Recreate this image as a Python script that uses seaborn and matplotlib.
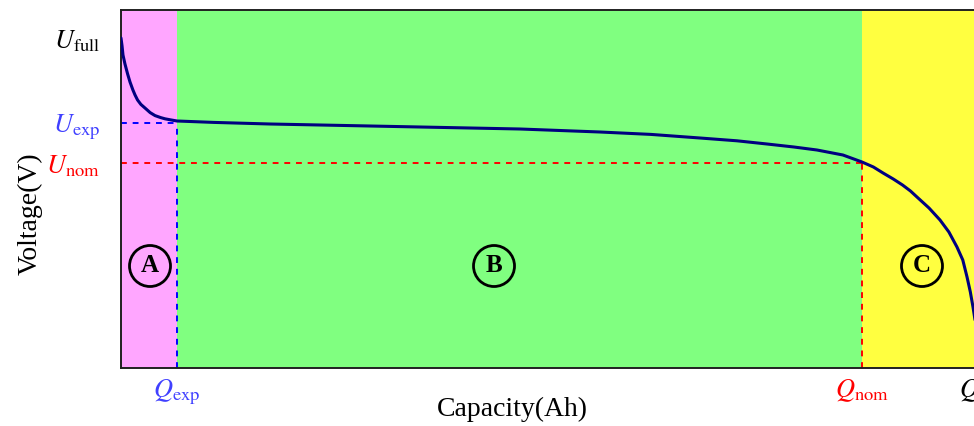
import matplotlib
matplotlib.use("Agg")
import matplotlib.pyplot as plt
import seaborn as sns
import pandas as pd

# Discharge curve of a cell: capacity (Ah) vs. terminal voltage (V)
capacity = [0.000, 0.008, 0.015, 0.030, 0.050, 0.068, 0.090, 0.106, 0.125, 0.150,
            0.181, 0.220, 0.257, 0.300, 0.332, 0.380, 0.423, 0.700, 1.125, 1.880,
            2.635, 3.012, 3.616, 4.000, 4.371, 4.650, 4.877, 5.080, 5.254, 5.450,
            5.594, 5.680, 5.753, 5.830, 5.900, 5.960, 6.009, 6.100, 6.183, 6.250,
            6.311, 6.355, 6.387, 6.412, 6.432, 6.452, 6.470, 6.486, 6.500]
voltage = [4.150, 4.110, 4.065, 4.020, 3.970, 3.930, 3.890, 3.865, 3.840, 3.818,
           3.800, 3.777, 3.762, 3.752, 3.746, 3.740, 3.735, 3.728, 3.720, 3.710,
           3.700, 3.695, 3.680, 3.668, 3.650, 3.636, 3.620, 3.605, 3.590, 3.565,
           3.530, 3.505, 3.475, 3.445, 3.415, 3.385, 3.355, 3.300, 3.240, 3.180,
           3.105, 3.040, 2.955, 2.880, 2.805, 2.720, 2.640, 2.570, 2.500]

# Characteristic points
q_exp, q_nom, q_full = 0.423, 5.594, 6.500
u_full, u_exp, u_nom = 4.150, 3.725, 3.525
v_min, v_max = 2.500, 4.290

zones = ["A", "B", "C"]
zone_edges = [(0.0, q_exp), (q_exp, q_nom), (q_nom, q_full)]
zone_colors = ["#ffa6ff", "#80ff80", "#ffff40"]
zone_label_x = [0.219, 2.816, 6.047]

sns.set_theme(style="white")
plt.rcParams["font.family"] = ["Liberation Serif", "DejaVu Serif"]
plt.rcParams["mathtext.fontset"] = "stix"
plt.rcParams["text.color"] = "black"
plt.rcParams["axes.labelcolor"] = "black"

fig = plt.figure(figsize=(9.74, 4.26), dpi=100)
ax = fig.add_axes([121 / 974, 58 / 426, 861 / 974, 358 / 426])

# Shaded operating zones
for (x0, x1), c in zip(zone_edges, zone_colors):
    ax.axvspan(x0, x1, color=c, lw=0, zorder=0)

# Guide lines to the exponential and nominal points
dash = (0, (3, 3))
ax.plot([0, q_exp], [u_exp, u_exp], ls=dash, color="#0000ff", lw=1.4, zorder=2)
ax.plot([q_exp, q_exp], [v_min, u_exp], ls=dash, color="#0000ff", lw=1.4, zorder=2)
ax.plot([0, q_nom], [u_nom, u_nom], ls=dash, color="#ff0000", lw=1.4, zorder=2)
ax.plot([q_nom, q_nom], [v_min, u_nom], ls=dash, color="#ff0000", lw=1.4, zorder=2)

df = pd.DataFrame({"Capacity": capacity, "Voltage": voltage})
sns.lineplot(data=df, x="Capacity", y="Voltage", ax=ax, color="#000080",
             lw=2.2, sort=False, zorder=3)

# Zone markers
zone_y = 3.01
for name, xc in zip(zones, zone_label_x):
    ax.text(xc, zone_y, name, ha="center", va="center", fontsize=18,
            fontweight="bold", color="black", zorder=4,
            bbox=dict(boxstyle="circle,pad=0.36", fc="none", ec="black", lw=2))

ax.set_xlim(0, q_full)
ax.set_ylim(v_min, v_max)
ax.set_xticks([q_exp, q_nom, q_full])
ax.set_xticklabels([r"$Q_{\mathrm{exp}}$", r"$Q_{\mathrm{nom}}$", r"$Q_{\mathrm{full}}$"],
                   fontsize=19)
ax.set_yticks([u_full, u_exp, u_nom])
ax.set_yticklabels([r"$U_{\mathrm{full}}$", r"$U_{\mathrm{exp}}$", r"$U_{\mathrm{nom}}$"],
                   fontsize=19)
for lbl, c in zip(ax.get_xticklabels(), ["#4040ff", "#ff0000", "black"]):
    lbl.set_color(c)
for lbl, c in zip(ax.get_yticklabels(), ["black", "#4040ff", "#ff0000"]):
    lbl.set_color(c)
ax.tick_params(axis="x", length=0, pad=7)
ax.tick_params(axis="y", length=0, pad=15)

ax.set_xlabel("Capacity(Ah)", fontsize=20, va="center", color="black")
ax.xaxis.set_label_coords(0.455, -0.117)
ax.set_ylabel("Voltage(V)", fontsize=20, va="center", color="black")
ax.yaxis.set_label_coords(-0.106, 0.43)

for s in ax.spines.values():
    s.set_color("#202020")
    s.set_linewidth(1.4)
    s.set_visible(True)

fig.savefig("out.png", dpi=100)
